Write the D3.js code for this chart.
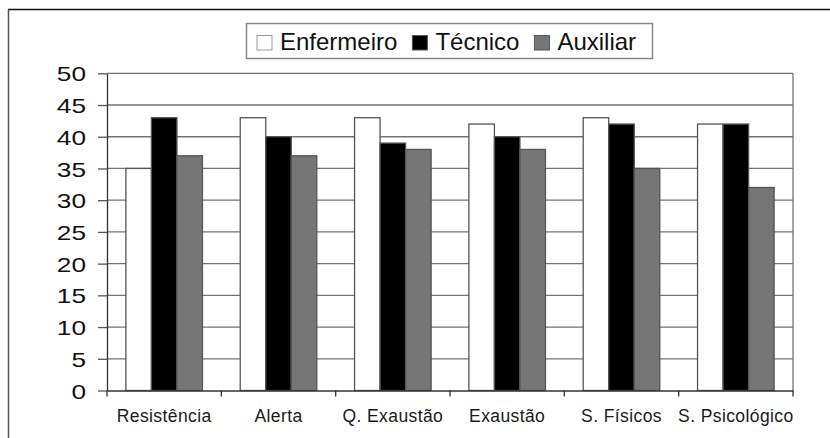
<!DOCTYPE html>
<html><head><meta charset="utf-8">
<script src="https://cdn.jsdelivr.net/npm/d3@7"></script>
<style>body{margin:0;background:#fff;overflow:hidden} svg{display:block}</style>
</head><body><svg id="c" width="830" height="438"></svg>
<script>
const categories = ["Resistência","Alerta","Q. Exaustão","Exaustão","S. Físicos","S. Psicológico"];
const seriesNames = ["Enfermeiro","Técnico","Auxiliar"];
const enfermeiro = [35,43,43,42,43,42];
const tecnico = [43,40,39,40,42,42];
const auxiliar = [37,37,38,38,35,32];
const yTicks = [0,5,10,15,20,25,30,35,40,45,50];
const seriesColors = ["#ffffff","#000000","#767676"];

const seriesValues = [enfermeiro, tecnico, auxiliar];
const svg = d3.select("#c");
const L = 107, R = 793, T = 73.3, B = 390.5;

// outer frame
svg.append("line").attr("x1", 8).attr("x2", 830).attr("y1", 9.5).attr("y2", 9.5)
  .attr("stroke", "#111").attr("stroke-width", 1.5);
svg.append("line").attr("x1", 8.5).attr("x2", 8.5).attr("y1", 9.5).attr("y2", 438)
  .attr("stroke", "#555").attr("stroke-width", 1.5);

const y = d3.scaleLinear().domain([0, 50]).range([B, T]);
const x0 = d3.scaleBand().domain(categories).range([L, R]).paddingInner(0).paddingOuter(0);
const x1 = d3.scaleBand().domain(seriesNames).range([0, x0.bandwidth()]).paddingInner(0).paddingOuter(0.74);

// gridlines
svg.append("g").selectAll("line").data(yTicks.filter(d => d > 0)).join("line")
  .attr("x1", L).attr("x2", R).attr("y1", d => y(d)).attr("y2", d => y(d))
  .attr("stroke", "#737373").attr("stroke-width", 1.3);

// right border of plot
svg.append("line").attr("x1", R).attr("x2", R).attr("y1", T).attr("y2", B)
  .attr("stroke", "#737373").attr("stroke-width", 1.3);

// bars
const groups = svg.append("g").selectAll("g").data(categories).join("g")
  .attr("transform", c => `translate(${x0(c)},0)`);
groups.selectAll("rect").data((c, i) => seriesNames.map((s, j) => ({s, j, v: seriesValues[j][i]})))
  .join("rect")
  .attr("x", d => x1(d.s)).attr("width", x1.bandwidth())
  .attr("y", d => y(d.v)).attr("height", d => B - y(d.v))
  .attr("fill", d => seriesColors[d.j])
  .attr("stroke", "#555").attr("stroke-width", 1.3);

// y axis
const yAxis = svg.append("g").attr("transform", `translate(${L},0)`)
  .call(d3.axisLeft(y).tickValues(yTicks).tickSize(9).tickSizeOuter(0));
yAxis.select(".domain").attr("stroke", "#333").attr("stroke-width", 1.3);
yAxis.selectAll(".tick line").attr("stroke", "#555").attr("stroke-width", 1.3);
yAxis.selectAll(".tick text")
  .attr("font-family", "Liberation Sans, Arial, sans-serif").attr("font-size", 21)
  .attr("fill", "#111").attr("x", -21 / 1.25).attr("dy", "0.36em")
  .attr("transform", "scale(1.25,1)");

// x axis
const xAxis = svg.append("g").attr("transform", `translate(0,${B})`)
  .call(d3.axisBottom(x0).tickSize(0).tickSizeOuter(0));
xAxis.select(".domain").attr("stroke", "#333").attr("stroke-width", 1.3);
xAxis.selectAll(".tick text")
  .attr("font-family", "Liberation Sans, Arial, sans-serif").attr("font-size", 17.5)
  .attr("letter-spacing", 0.4)
  .attr("fill", "#1a1a1a").attr("y", 31.8).attr("dy", null);
const bounds = categories.map(c => x0(c)).concat([R]);
xAxis.append("g").selectAll("line").data(bounds).join("line")
  .attr("x1", d => d).attr("x2", d => d).attr("y1", 0).attr("y2", 6)
  .attr("stroke", "#333").attr("stroke-width", 1.3);

// legend
const lg = svg.append("g");
lg.append("rect").attr("x", 246.5).attr("y", 23.5).attr("width", 406).attr("height", 35)
  .attr("fill", "#fff").attr("stroke", "#888").attr("stroke-width", 1.5);
let lx = 257;
seriesNames.forEach((s, j) => {
  lg.append("rect").attr("x", lx).attr("y", 35.5).attr("width", 15).attr("height", 14.5)
    .attr("fill", seriesColors[j]).attr("stroke", j === 0 ? "#999" : "#555").attr("stroke-width", 1);
  const t = lg.append("text").attr("x", lx + 23).attr("y", 50)
    .attr("font-family", "Liberation Sans, Arial, sans-serif").attr("font-size", 24)
    .attr("fill", "#111").text(s);
  lx = lx + 23 + t.node().getComputedTextLength() + 15;
});
</script></body></html>
